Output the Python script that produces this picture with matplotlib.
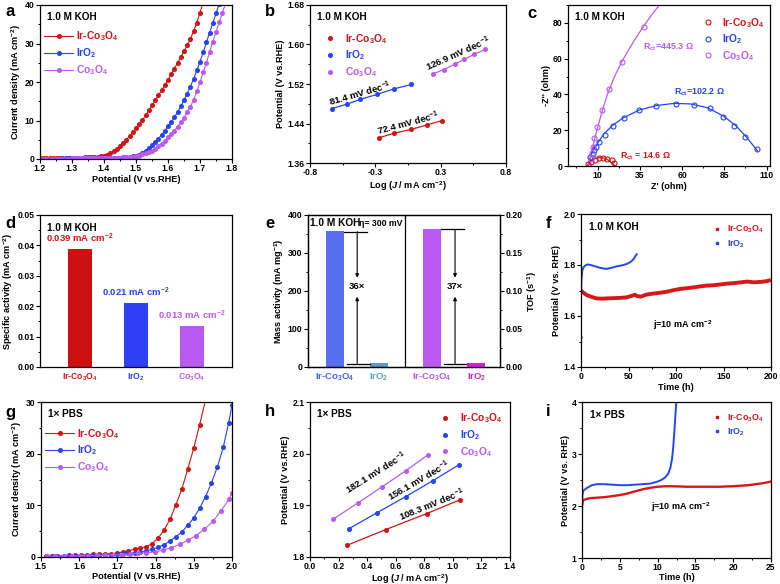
import matplotlib
matplotlib.use('Agg')
import matplotlib.pyplot as plt
from matplotlib.ticker import AutoMinorLocator, MultipleLocator, FixedLocator
from matplotlib.lines import Line2D

plt.rcParams['font.family'] = ['Liberation Sans', 'DejaVu Sans']
plt.rcParams['font.weight'] = 'bold'
plt.rcParams['axes.labelweight'] = 'bold'
plt.rcParams['mathtext.fontset'] = 'custom'
plt.rcParams['mathtext.rm'] = 'Liberation Sans:bold'
plt.rcParams['mathtext.it'] = 'Liberation Sans:italic:bold'
plt.rcParams['mathtext.bf'] = 'Liberation Sans:bold'
plt.rcParams['mathtext.default'] = 'regular'

RED = '#D01515'
BLUE = '#2545F2'
VIO = '#BA5AF0'

# ---------------- data ----------------
names = ['Ir-Co$_3$O$_4$', 'IrO$_2$', 'Co$_3$O$_4$']

# (a) LSV in 1.0 M KOH
a_V = [1.20, 1.21, 1.22, 1.23, 1.24, 1.25, 1.26, 1.27, 1.28, 1.29,
       1.30, 1.31, 1.32, 1.33, 1.34, 1.35, 1.36, 1.37, 1.38, 1.39,
       1.40, 1.41, 1.42, 1.43, 1.44, 1.45, 1.46, 1.47, 1.48, 1.49,
       1.50, 1.51, 1.52, 1.53, 1.54, 1.55, 1.56, 1.57, 1.58, 1.59,
       1.60, 1.61, 1.62, 1.63, 1.64, 1.65, 1.66, 1.67, 1.68, 1.69,
       1.70, 1.71, 1.72, 1.73, 1.74, 1.75, 1.76, 1.77, 1.78]
a_ir = [0.20, 0.20, 0.22, 0.22, 0.24, 0.25, 0.26, 0.27, 0.28, 0.30,
        0.31, 0.33, 0.35, 0.37, 0.40, 0.43, 0.47, 0.52, 0.58, 0.68,
        0.8, 1.1, 1.5, 2.0, 2.6, 3.3, 4.1, 5.0, 6.0, 7.0,
        8.0, 9.0, 10.1, 11.3, 12.6, 13.9, 15.2, 16.5, 17.8, 19.2,
        20.6, 22.0, 23.5, 25.0, 26.5, 28.0, 29.5, 31.2, 33.2, 35.4,
        38.0, 40.8]
a_iro2 = [0.10, 0.10, 0.10, 0.11, 0.11, 0.12, 0.12, 0.13, 0.13, 0.14,
          0.15, 0.16, 0.17, 0.18, 0.19, 0.20, 0.21, 0.22, 0.24, 0.25,
          0.27, 0.28, 0.30, 0.32, 0.35, 0.38, 0.42, 0.48, 0.55, 0.65,
          0.8, 1.1, 1.6, 2.2, 2.9, 3.6, 4.4, 5.3, 6.3, 7.4,
          8.5, 9.6, 10.8, 12.2, 13.7, 15.3, 17.0, 18.8, 20.8, 23.0,
          25.3, 27.7, 30.3, 32.8, 35.3, 37.8, 40.3]
a_co = [0.08, 0.08, 0.09, 0.09, 0.10, 0.10, 0.11, 0.11, 0.12, 0.12,
        0.13, 0.14, 0.15, 0.16, 0.17, 0.18, 0.19, 0.20, 0.22, 0.24,
        0.26, 0.28, 0.30, 0.32, 0.35, 0.38, 0.42, 0.47, 0.53, 0.60,
        0.7, 0.9, 1.2, 1.5, 1.8, 2.2, 2.7, 3.3, 4.0, 4.8,
        5.6, 6.5, 7.4, 8.4, 9.5, 10.7, 12.1, 13.6, 15.4, 17.6,
        20.0, 22.5, 25.0, 27.8, 30.5, 33.0, 35.5, 38.0, 40.5]

# (b) Tafel, KOH
b_x_ir = [-0.239, -0.117, 0.024, 0.155, 0.277]
b_y_ir = [1.411, 1.420, 1.428, 1.437, 1.446]
b_x_iro2 = [-0.624, -0.502, -0.388, -0.252, -0.117, 0.027]
b_y_iro2 = [1.470, 1.479, 1.489, 1.499, 1.510, 1.519]
b_x_co = [0.20, 0.29, 0.38, 0.46, 0.54, 0.63]
b_y_co = [1.540, 1.549, 1.560, 1.570, 1.580, 1.590]
b_slopes = ['72.4 mV dec$^{-1}$', '81.4 mV dec$^{-1}$', '126.9 mV dec$^{-1}$']

# (c) Nyquist
c_x_ir = [4.4, 6.4, 8.4, 10.9, 13.3, 15.7, 18.3, 19.6]
c_y_ir = [1.0, 2.2, 3.6, 4.5, 4.7, 4.1, 3.2, 1.7]
c_fx_ir = [3.8, 5.0, 7.0, 9.0, 11.0, 13.0, 15.0, 17.0, 19.0, 20.2]
c_fy_ir = [0.0, 1.8, 3.4, 4.3, 4.7, 4.6, 4.0, 2.9, 1.2, 0.0]
c_x_iro2 = [5.5, 7.0, 7.8, 9.0, 11.0, 14.3, 19.3, 25.6, 34.5, 44.5, 56.4, 67.0, 76.5, 84.4, 90.9, 97.2, 104.5]
c_y_iro2 = [5.0, 6.6, 8.8, 10.7, 13.5, 17.6, 22.3, 27.0, 31.1, 33.3, 34.8, 34.3, 32.2, 27.5, 22.3, 16.3, 9.7]
c_fx_iro2 = [4.3, 5.5, 7.0, 9.0, 11.0, 14.0, 19.0, 25.0, 35.0, 45.0, 55.0, 65.0, 75.0, 85.0, 92.0, 98.0, 104.5]
c_fy_iro2 = [0.0, 4.5, 8.0, 11.2, 14.2, 18.2, 22.8, 26.8, 31.4, 33.8, 35.0, 34.7, 32.6, 27.6, 22.3, 16.2, 8.6]
c_x_co = [6.0, 6.5, 7.0, 7.8, 9.8, 12.4, 16.9, 24.2, 37.4]
c_y_co = [4.0, 7.5, 10.7, 15.7, 21.9, 31.3, 42.9, 58.4, 77.7]
c_fx_co = [4.5, 6.0, 8.0, 10.0, 12.5, 16.0, 20.0, 25.0, 30.0, 36.0, 42.0, 47.0]
c_fy_co = [0.0, 6.0, 14.0, 21.5, 30.0, 40.5, 50.0, 59.5, 67.5, 76.5, 84.5, 90.5]

# (d) specific activity
d_vals = [0.0388, 0.0210, 0.0135]
d_text = ['0.039 mA cm$^{-2}$', '0.021 mA cm$^{-2}$', '0.013 mA cm$^{-2}$']

# (e) mass activity and TOF
e_mass = [358, 10]
e_tof = [0.181, 0.005]
e_labels = ['Ir-Co$_3$O$_4$', 'IrO$_2$', 'Ir-Co$_3$O$_4$', 'IrO$_2$']
e_ratio = ['36×', '37×']

# (f) stability KOH
f_t_ir = [0, 2, 6, 11, 16.5, 22, 27, 34, 41, 48, 55, 57, 59, 63, 69, 76, 83, 90, 97, 104,
          111, 118, 125, 132, 140, 147, 154, 161, 168, 175, 182, 190, 196, 200]
f_v_ir = [1.700, 1.693, 1.682, 1.675, 1.669, 1.668, 1.669, 1.670, 1.671, 1.673,
          1.681, 1.683, 1.678, 1.676, 1.684, 1.688, 1.691, 1.695, 1.701, 1.706,
          1.709, 1.712, 1.716, 1.719, 1.721, 1.724, 1.727, 1.729, 1.732, 1.735,
          1.732, 1.734, 1.737, 1.741]
f_t_iro2 = [0, 0.5, 1.4, 2.5, 4.2, 6, 7.7, 10, 13, 16.5, 20, 24, 27, 31, 35, 38, 41, 44.6,
            48, 51.7, 54, 56, 57, 58.7]
f_v_iro2 = [1.700, 1.745, 1.780, 1.790, 1.797, 1.801, 1.802, 1.800, 1.797, 1.793,
            1.789, 1.786, 1.785, 1.788, 1.792, 1.795, 1.797, 1.800, 1.804, 1.811,
            1.818, 1.826, 1.834, 1.842]

# (g) LSV in 1x PBS
g_V_ir = [1.512, 1.528, 1.543, 1.559, 1.574, 1.590, 1.605, 1.621, 1.636, 1.652,
          1.667, 1.683, 1.698, 1.714, 1.729, 1.745, 1.760, 1.776, 1.791, 1.807,
          1.822, 1.838, 1.853, 1.869, 1.884, 1.900, 1.915, 1.931]
g_ir = [0.10, 0.15, 0.20, 0.25, 0.30, 0.35, 0.40, 0.45, 0.50, 0.55,
        0.60, 0.65, 0.75, 0.95, 1.20, 1.50, 1.75, 2.0, 2.6, 3.7,
        5.2, 7.3, 10.1, 13.2, 17.0, 21.1, 25.5, 30.5]
g_V_iro2 = [1.512, 1.528, 1.543, 1.559, 1.574, 1.590, 1.605, 1.621, 1.636, 1.652,
            1.667, 1.683, 1.698, 1.714, 1.729, 1.745, 1.760, 1.776, 1.791, 1.807,
            1.822, 1.838, 1.853, 1.869, 1.884, 1.900, 1.915, 1.931, 1.946, 1.962,
            1.977, 1.991, 2.000]
g_iro2 = [0.08, 0.10, 0.13, 0.16, 0.19, 0.22, 0.25, 0.28, 0.32, 0.36,
          0.40, 0.45, 0.50, 0.58, 0.68, 0.82, 1.0, 1.2, 1.5, 1.9,
          2.4, 3.1, 3.9, 4.9, 6.1, 7.6, 9.4, 11.7, 14.3, 17.5,
          21.2, 25.9, 29.4]
g_V_co = [1.515, 1.537, 1.559, 1.580, 1.602, 1.624, 1.646, 1.667, 1.689, 1.711,
          1.732, 1.754, 1.776, 1.798, 1.820, 1.841, 1.863, 1.885, 1.906, 1.928,
          1.950, 1.972, 1.993, 2.000]
g_co = [0.10, 0.12, 0.15, 0.18, 0.22, 0.26, 0.30, 0.35, 0.40, 0.48,
        0.58, 0.70, 0.82, 0.97, 1.35, 1.80, 2.45, 3.25, 4.15, 5.4,
        6.9, 9.0, 11.3, 12.3]

# (h) Tafel, PBS
h_x_ir = [0.262, 0.529, 0.817, 1.052]
h_y_ir = [1.823, 1.853, 1.884, 1.911]
h_x_iro2 = [0.274, 0.471, 0.671, 0.862, 1.040]
h_y_iro2 = [1.855, 1.886, 1.917, 1.948, 1.978]
h_x_co = [0.16, 0.338, 0.505, 0.671, 0.826]
h_y_co = [1.873, 1.905, 1.936, 1.967, 1.998]
h_slopes = ['108.3 mV dec$^{-1}$', '156.1 mV dec$^{-1}$', '182.1 mV dec$^{-1}$']

# (i) stability PBS
i_t_ir = [0, 0.05, 0.15, 0.5, 1, 2, 3, 4, 5, 6, 7, 8, 9, 10, 11, 12, 13, 14, 15, 16,
          17, 18, 19, 20, 21, 22, 23, 24, 25]
i_v_ir = [1.95, 2.05, 2.11, 2.13, 2.15, 2.16, 2.17, 2.19, 2.21, 2.24,
          2.28, 2.32, 2.35, 2.37, 2.38, 2.38, 2.375, 2.37, 2.37, 2.37,
          2.37, 2.37, 2.375, 2.38, 2.39, 2.40, 2.42, 2.44, 2.47]
i_t_iro2 = [0, 0.05, 0.15, 0.4, 0.8, 1.3, 2, 3, 4, 5, 6, 7, 8, 9, 10, 10.5, 11, 11.4,
            11.7, 11.9, 12.05, 12.2, 12.3, 12.4, 12.5]
i_v_iro2 = [2.02, 2.20, 2.29, 2.32, 2.36, 2.40, 2.42, 2.42, 2.41, 2.40,
            2.40, 2.41, 2.42, 2.43, 2.47, 2.50, 2.55, 2.62, 2.74, 2.90,
            3.10, 3.40, 3.62, 3.85, 4.05]

# ---------------- figure ----------------
W, H = 780, 584
fig = plt.figure(figsize=(7.8, 5.84), dpi=100)

TS = 6.2   # tick label size
LS = 6.6   # axis label size
AS = 7.2   # in-plot header text
GS = 7.4   # legend text
NS = 6.8   # annotations


def add(l, t, r, b):
    return fig.add_axes([l / W, 1 - b / H, (r - l) / W, (b - t) / H])


def style(ax, minor=True):
    for s in ax.spines.values():
        s.set_linewidth(0.9)
    ax.tick_params(which='major', direction='out', length=2.6, width=0.8,
                   labelsize=TS, pad=1.3)
    ax.tick_params(which='minor', direction='out', length=1.5, width=0.7)
    if minor:
        ax.xaxis.set_minor_locator(AutoMinorLocator(2))
        ax.yaxis.set_minor_locator(AutoMinorLocator(2))


def letter(x, y, s):
    fig.text(x / W, 1 - y / H, s, fontsize=12, fontweight='bold', va='center', ha='left')


def color_legend(leg, cols):
    for t, c in zip(leg.get_texts(), cols):
        t.set_color(c)


cols = [RED, BLUE, VIO]

# ---- a ----
ax = add(40, 5, 232, 159)
ax.plot(a_V[:len(a_ir)], a_ir, '-o', color=RED, ms=2.6, lw=0.8, label=names[0])
ax.plot(a_V[:len(a_iro2)], a_iro2, '-o', color=BLUE, ms=2.6, lw=0.8, label=names[1])
ax.plot(a_V[:len(a_co)], a_co, '-o', color=VIO, ms=2.6, lw=0.8, label=names[2])
ax.set_xlim(1.2, 1.8)
ax.set_ylim(0, 40)
ax.xaxis.set_major_locator(MultipleLocator(0.1))
ax.yaxis.set_major_locator(MultipleLocator(10))
style(ax)
ax.set_xlabel('Potential (V vs.RHE)', fontsize=LS, labelpad=1.2)
ax.set_ylabel('Current density (mA cm$^{-2}$)', fontsize=LS, labelpad=1.5)
ax.text(0.035, 0.925, '1.0 M KOH', transform=ax.transAxes, fontsize=AS, va='center')
leg = ax.legend(loc='upper left', bbox_to_anchor=(-0.01, 0.88), frameon=False, fontsize=GS,
                handlelength=2.8, handletextpad=0.3, labelspacing=0.3, borderaxespad=0.2)
color_legend(leg, cols)
letter(5, 11, 'a')

# ---- b ----
ax = add(310, 5, 506, 163)
for xs, ys, c in [(b_x_ir, b_y_ir, RED), (b_x_iro2, b_y_iro2, BLUE), (b_x_co, b_y_co, VIO)]:
    ax.plot(xs, ys, '-o', color=c, ms=2.6, lw=0.9)
ax.set_xlim(-0.8, 0.8)
ax.set_ylim(1.36, 1.68)
ax.xaxis.set_major_locator(FixedLocator([-0.8, -0.8 + 1.6 / 3, -0.8 + 3.2 / 3, 0.8]))
ax.set_xticklabels(['-0.8', '-0.3', '0.3', '0.8'])
ax.yaxis.set_major_locator(MultipleLocator(0.08))
ax.yaxis.set_major_formatter(plt.FormatStrFormatter('%.2f'))
style(ax)
ax.set_xlabel('Log ($\\mathit{J}$ / mA cm$^{-2}$)', fontsize=LS, labelpad=1.2)
ax.set_ylabel('Potential (V vs.RHE)', fontsize=LS, labelpad=1.5)
ax.text(0.035, 0.925, '1.0 M KOH', transform=ax.transAxes, fontsize=AS, va='center')
hs = [Line2D([], [], ls='none', marker='o', ms=2.6, color=c) for c in cols]
leg = ax.legend(hs, names, loc='upper left', bbox_to_anchor=(0.04, 0.87), frameon=False,
                fontsize=GS, handlelength=1.2, handletextpad=0.8, labelspacing=0.3,
                borderaxespad=0.2)
color_legend(leg, cols)
ax.text(0.005, 1.440, b_slopes[0], fontsize=NS, rotation=15, ha='center', va='center')
ax.text(-0.388, 1.501, b_slopes[1], fontsize=NS, rotation=16, ha='center', va='center')
ax.text(0.412, 1.581, b_slopes[2], fontsize=NS, rotation=24, ha='center', va='center')
letter(265, 11, 'b')

# ---- c ----
ax = add(568, 5, 770, 166)
ax.plot(c_fx_ir, c_fy_ir, '-', color=RED, lw=0.9)
ax.plot(c_fx_iro2, c_fy_iro2, '-', color=BLUE, lw=0.9)
ax.plot(c_fx_co, c_fy_co, '-', color=VIO, lw=0.9)
ax.plot(c_x_ir, c_y_ir, 'o', mfc='none', mec=RED, ms=3.6, mew=0.8)
ax.plot(c_x_iro2, c_y_iro2, 'o', mfc='none', mec=BLUE, ms=3.6, mew=0.8)
ax.plot(c_x_co, c_y_co, 'o', mfc='none', mec=VIO, ms=3.6, mew=0.8)
ax.set_xlim(-7.5, 112)
ax.set_ylim(0, 90)
ax.xaxis.set_major_locator(FixedLocator([10, 35, 60, 85, 110]))
ax.yaxis.set_major_locator(MultipleLocator(20))
style(ax)
ax.set_xlabel("Z' (ohm)", fontsize=LS, labelpad=0.8)
ax.set_ylabel("-Z'' (ohm)", fontsize=LS, labelpad=1.5)
ax.text(0.035, 0.925, '1.0 M KOH', transform=ax.transAxes, fontsize=AS, va='center')
hs = [Line2D([], [], ls='none', marker='o', mfc='none', mec=c, ms=3.6, mew=0.8) for c in cols]
leg = ax.legend(hs, names, loc='upper right', bbox_to_anchor=(1.0, 0.97), frameon=False,
                fontsize=GS, handlelength=1.0, handletextpad=0.8, labelspacing=0.25,
                borderaxespad=0.2)
color_legend(leg, cols)
ax.text(36.6, 66.5, 'R$_{ct}$=445.3 Ω', color=VIO, fontsize=NS - 0.4, va='center')
ax.text(55.2, 41.2, 'R$_{ct}$=102.2 Ω', color=BLUE, fontsize=NS - 0.4, va='center')
ax.text(23.2, 5.6, 'R$_{ct}$ = 14.6 Ω', color=RED, fontsize=NS - 0.4, va='center')
letter(527, 14, 'c')

# ---- d ----
ax = add(40, 215, 232, 367)
ax.bar([0, 1, 2], d_vals, width=0.42, color=['#CC1010', '#2F3FF2', '#B85AF0'])
ax.set_xlim(-0.71, 2.71)
ax.set_ylim(0, 0.05)
ax.set_xticks([0, 1, 2])
ax.set_xticklabels(names)
for t, c in zip(ax.get_xticklabels(), cols):
    t.set_color(c)
    t.set_fontsize(7.0)
ax.yaxis.set_major_locator(MultipleLocator(0.01))
ax.yaxis.set_major_formatter(plt.FormatStrFormatter('%.2f'))
style(ax, minor=False)
ax.yaxis.set_minor_locator(AutoMinorLocator(2))
ax.tick_params(axis='x', length=0, pad=3)
ax.set_ylabel('Specific activity (mA cm$^{-2}$)', fontsize=LS, labelpad=1.5)
ax.text(0.035, 0.915, '1.0 M KOH', transform=ax.transAxes, fontsize=AS, va='center')
for i, (v, s) in enumerate(zip(d_vals, d_text)):
    ax.text(i, v + 0.0035, s, color=cols[i], fontsize=NS, ha='center', va='center')
letter(5, 223, 'd')

# ---- e ----
ax = add(308, 215, 500, 367)
pos_l = [0, 1]
pos_r = [2.2, 3.21]
ax.bar(pos_l, e_mass, width=0.41, color=['#5A6EF2', '#5E9CC4'])
ax.set_xlim(-0.606, 3.75)
ax.set_ylim(0, 400)
ax.yaxis.set_major_locator(MultipleLocator(100))
style(ax, minor=False)
ax.yaxis.set_minor_locator(AutoMinorLocator(2))
ax.set_xticks(pos_l + pos_r)
ax.set_xticklabels(e_labels)
for t, c in zip(ax.get_xticklabels(), ['#4A62F0', '#5E9CC4', VIO, '#C828C8']):
    t.set_color(c)
    t.set_fontsize(6.8)
ax.tick_params(axis='x', length=0, pad=3)
ax.set_ylabel('Mass activity (mA mg$^{-1}$)', fontsize=LS, labelpad=1.5)
ax2 = ax.twinx()
ax2.bar(pos_r, e_tof, width=0.41, color=[VIO, '#C828C8'])
ax2.set_ylim(0, 0.20)
ax2.yaxis.set_major_locator(MultipleLocator(0.05))
ax2.yaxis.set_major_formatter(plt.FormatStrFormatter('%.2f'))
ax2.yaxis.set_minor_locator(AutoMinorLocator(2))
ax2.tick_params(which='major', direction='out', length=2.6, width=0.8, labelsize=TS, pad=1.3)
ax2.tick_params(which='minor', direction='out', length=1.5, width=0.7)
for s in ax2.spines.values():
    s.set_linewidth(0.9)
ax2.set_ylabel('TOF (s$^{-1}$)', fontsize=LS, labelpad=2)
ax.axvline(1.606, color='k', lw=0.9)
# arrows / guide lines
for (x0, x1, bx0, bx1, ax_x, top), r in zip([(0.205, 0.735, 0.28, 0.80, 0.51, 356),
                                             (2.41, 2.93, 2.48, 3.00, 2.73, 362)], e_ratio):
    ax.plot([x0, x1], [top, top], color='k', lw=0.9)
    ax.plot([bx0, bx1], [9, 9], color='k', lw=0.9)
    ax.annotate('', xy=(ax_x, 235), xytext=(ax_x, top),
                arrowprops=dict(arrowstyle='-|>', color='k', lw=0.8, mutation_scale=5,
                                shrinkA=0, shrinkB=0))
    ax.annotate('', xy=(ax_x, 185), xytext=(ax_x, 9),
                arrowprops=dict(arrowstyle='-|>', color='k', lw=0.8, mutation_scale=5,
                                shrinkA=0, shrinkB=0))
    ax.text(ax_x, 212, r, fontsize=NS, ha='center', va='center')
ax.text(-0.56, 378, '1.0 M KOH', fontsize=7.3, va='center')
ax.text(0.55, 378, 'η= 300 mV', fontsize=6.3, va='center')
letter(265, 223, 'e')

# ---- f ----
ax = add(581, 214, 771, 367)
ax.plot(f_t_ir, f_v_ir, '-', color='#D81818', lw=2.8, solid_capstyle='butt')
ax.plot(f_t_iro2, f_v_iro2, '-', color=BLUE, lw=1.4)
ax.plot([0], [1.518], 's', color=BLUE, ms=0.8)
ax.set_xlim(0, 200)
ax.set_ylim(1.4, 2.0)
ax.xaxis.set_major_locator(MultipleLocator(50))
ax.yaxis.set_major_locator(MultipleLocator(0.2))
ax.yaxis.set_major_formatter(plt.FormatStrFormatter('%.1f'))
style(ax)
ax.set_xlabel('Time (h)', fontsize=LS, labelpad=1.0)
ax.set_ylabel('Potential (V vs. RHE)', fontsize=LS, labelpad=1.5)
ax.text(0.04, 0.915, '1.0 M KOH', transform=ax.transAxes, fontsize=AS, va='center')
hs = [Line2D([], [], ls='none', marker='s', ms=1.5, color=c) for c in [RED, BLUE]]
leg = ax.legend(hs, names[:2], loc='upper right', bbox_to_anchor=(0.99, 0.97), frameon=False,
                fontsize=6.4, handlelength=1.0, handletextpad=0.6, labelspacing=0.3,
                borderaxespad=0.2)
color_legend(leg, [RED, BLUE])
ax.text(76, 1.564, 'j=10 mA cm$^{-2}$', fontsize=NS - 0.3, va='center')
letter(546, 224, 'f')

# ---- g ----
ax = add(41, 402, 232, 557)
ax.plot(g_V_ir, g_ir, '-o', color=RED, ms=2.6, lw=0.8, label=names[0])
ax.plot(g_V_iro2, g_iro2, '-o', color=BLUE, ms=2.6, lw=0.8, label=names[1])
ax.plot(g_V_co, g_co, '-o', color=VIO, ms=2.6, lw=0.8, label=names[2])
ax.set_xlim(1.5, 2.0)
ax.set_ylim(0, 30)
ax.xaxis.set_major_locator(MultipleLocator(0.1))
ax.yaxis.set_major_locator(MultipleLocator(10))
style(ax)
ax.set_xlabel('Potential (V vs.RHE)', fontsize=LS, labelpad=0.5)
ax.set_ylabel('Current density (mA cm$^{-2}$)', fontsize=LS, labelpad=1.5)
ax.text(0.035, 0.925, '1× PBS', transform=ax.transAxes, fontsize=AS, va='center')
leg = ax.legend(loc='upper left', bbox_to_anchor=(-0.01, 0.88), frameon=False, fontsize=GS,
                handlelength=2.8, handletextpad=0.3, labelspacing=0.3, borderaxespad=0.2)
color_legend(leg, cols)
letter(5, 412, 'g')

# ---- h ----
ax = add(310, 402, 510, 557)
for xs, ys, c in [(h_x_ir, h_y_ir, RED), (h_x_iro2, h_y_iro2, BLUE), (h_x_co, h_y_co, VIO)]:
    ax.plot(xs, ys, '-o', color=c, ms=2.6, lw=0.9)
ax.set_xlim(0.0, 1.4)
ax.set_ylim(1.8, 2.1)
ax.xaxis.set_major_locator(MultipleLocator(0.2))
ax.yaxis.set_major_locator(MultipleLocator(0.1))
ax.yaxis.set_major_formatter(plt.FormatStrFormatter('%.1f'))
ax.xaxis.set_major_formatter(plt.FormatStrFormatter('%.1f'))
style(ax)
ax.set_xlabel('Log ($\\mathit{J}$ / mA cm$^{-2}$)', fontsize=LS, labelpad=0.3)
ax.set_ylabel('Potential (V vs.RHE)', fontsize=LS, labelpad=1.5)
ax.text(0.035, 0.925, '1× PBS', transform=ax.transAxes, fontsize=AS, va='center')
hs = [Line2D([], [], ls='none', marker='o', ms=2.6, color=c) for c in cols]
leg = ax.legend(hs, names, loc='upper right', bbox_to_anchor=(0.99, 0.98), frameon=False,
                fontsize=GS, handlelength=1.2, handletextpad=0.8, labelspacing=0.3,
                borderaxespad=0.2)
color_legend(leg, cols)
ax.text(0.85, 1.902, h_slopes[0], fontsize=NS, rotation=22, ha='center', va='center')
ax.text(0.762, 1.947, h_slopes[1], fontsize=NS, rotation=30, ha='center', va='center')
ax.text(0.464, 1.962, h_slopes[2], fontsize=NS, rotation=32, ha='center', va='center')
letter(265, 412, 'h')

# ---- i ----
ax = add(582, 402, 771, 558)
ax.plot(i_t_ir, i_v_ir, '-', color='#D81818', lw=1.7)
ax.plot(i_t_iro2, i_v_iro2, '-', color=BLUE, lw=1.4)
ax.set_xlim(0, 25)
ax.set_ylim(1, 4)
ax.xaxis.set_major_locator(MultipleLocator(5))
ax.yaxis.set_major_locator(MultipleLocator(1))
style(ax)
ax.set_xlabel('Time (h)', fontsize=LS, labelpad=0.5)
ax.set_ylabel('Potential (V vs. RHE)', fontsize=LS, labelpad=1.5)
ax.text(0.04, 0.915, '1× PBS', transform=ax.transAxes, fontsize=AS, va='center')
hs = [Line2D([], [], ls='none', marker='s', ms=1.5, color=c) for c in [RED, BLUE]]
leg = ax.legend(hs, names[:2], loc='upper right', bbox_to_anchor=(0.99, 0.97), frameon=False,
                fontsize=6.4, handlelength=1.0, handletextpad=0.6, labelspacing=0.3,
                borderaxespad=0.2)
color_legend(leg, [RED, BLUE])
ax.text(9.1, 1.98, 'j=10 mA cm$^{-2}$', fontsize=NS - 0.3, va='center')
letter(546, 412, 'i')

fig.savefig('out.png', dpi=100)
